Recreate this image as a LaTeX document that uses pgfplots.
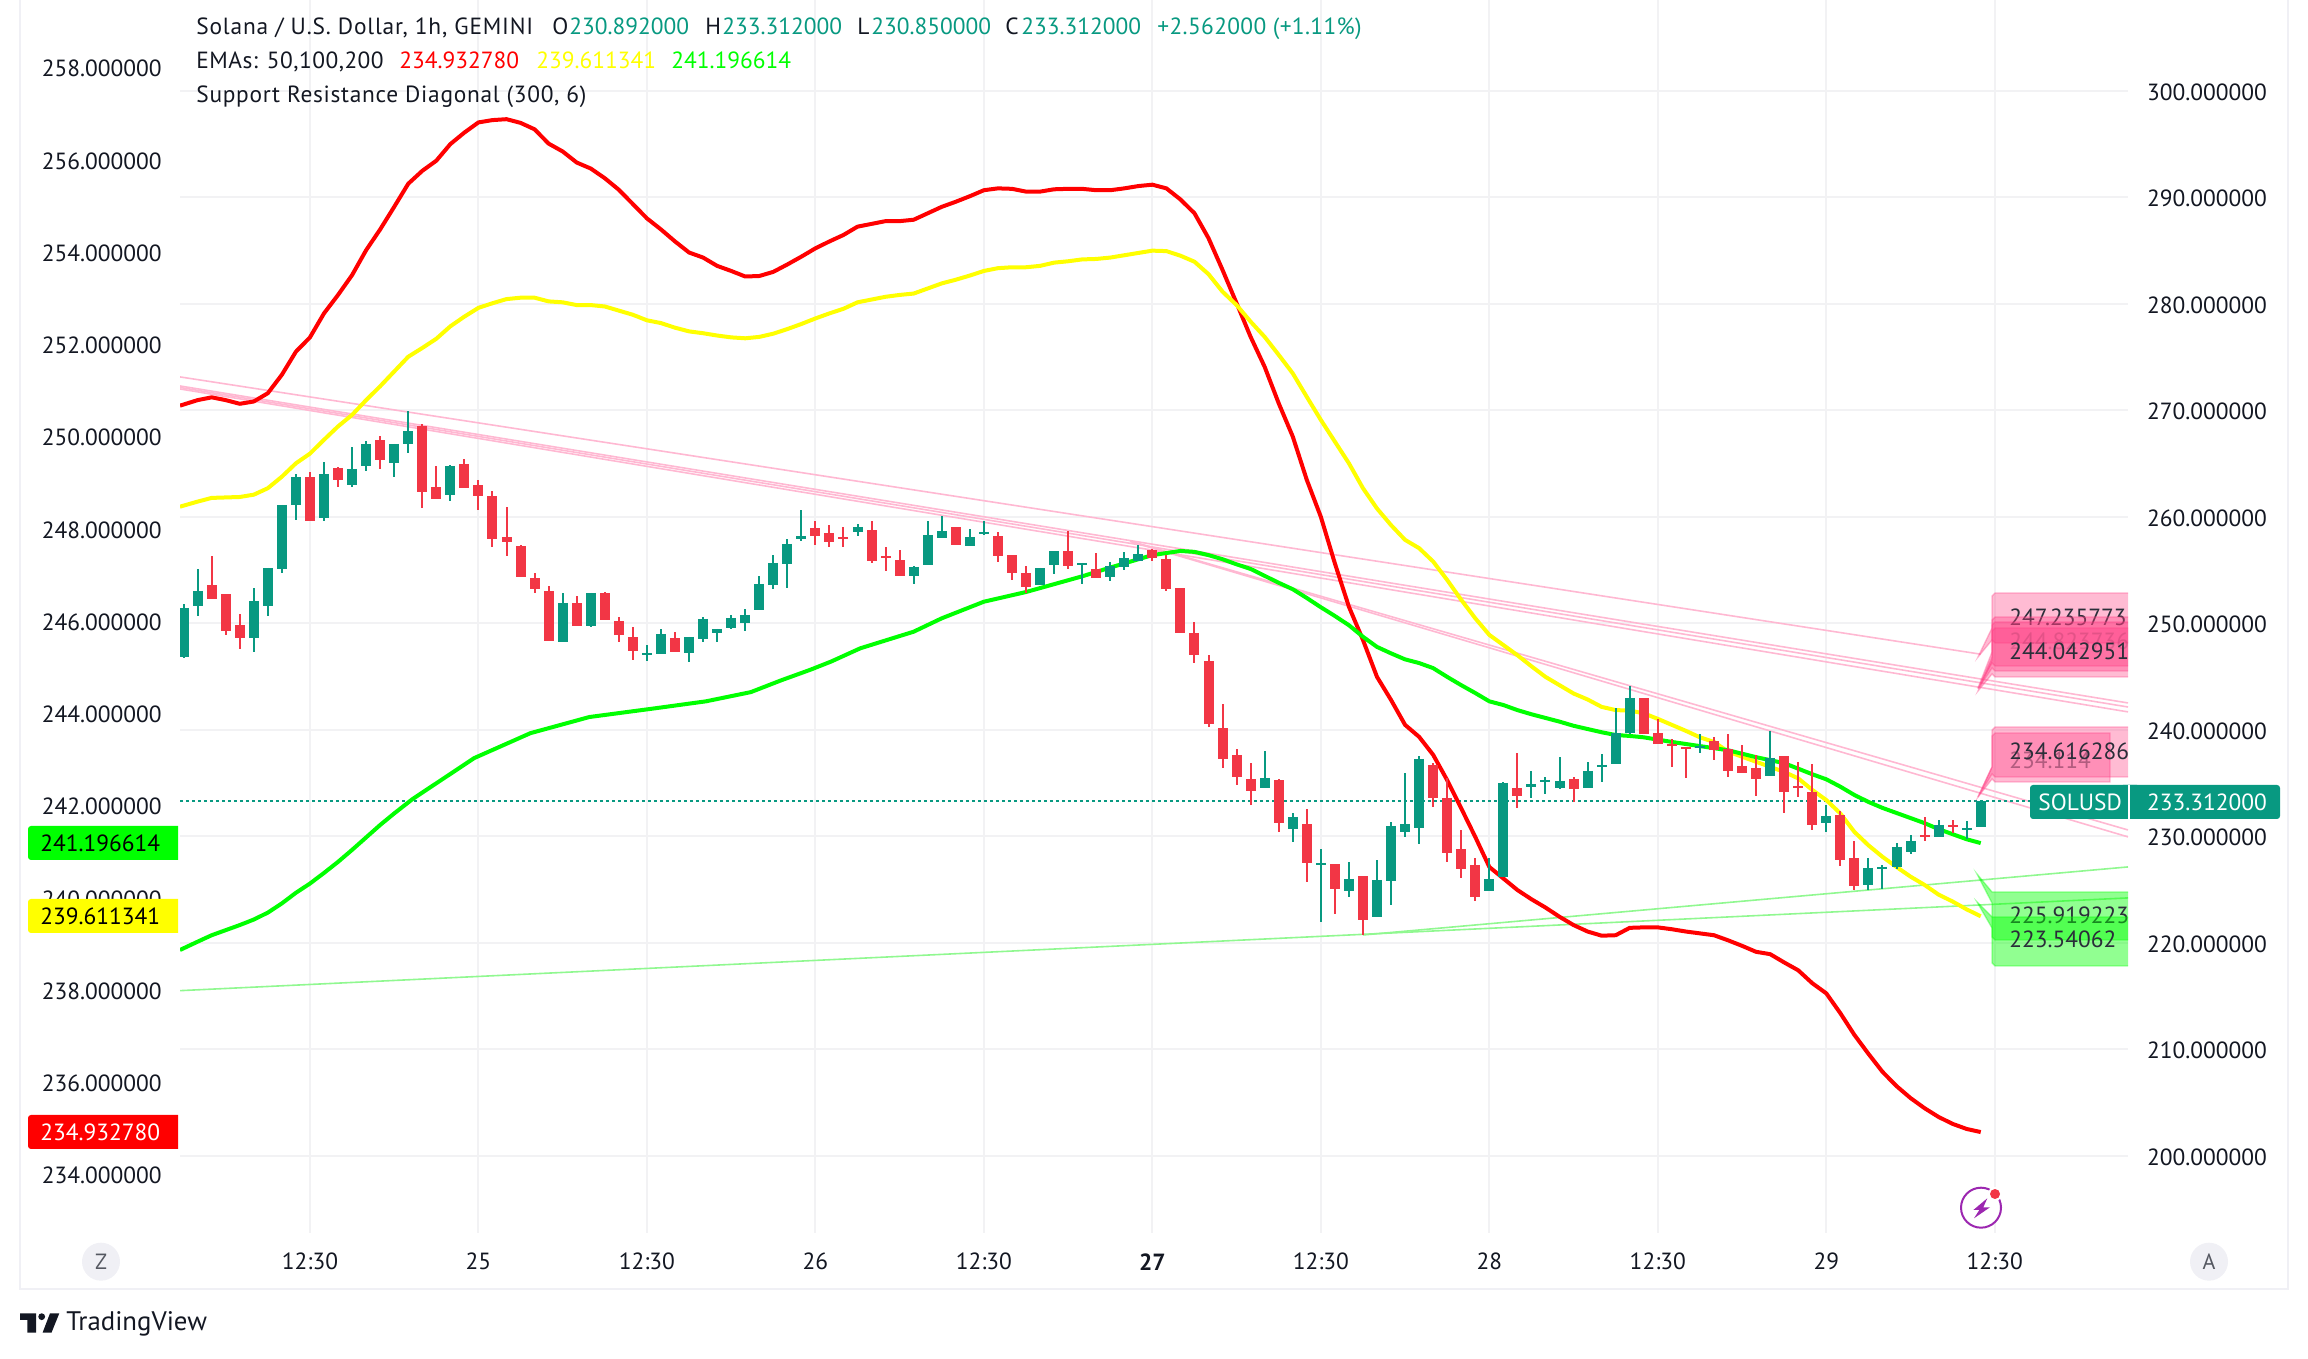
\documentclass[border=0pt]{standalone}
\usepackage{fontspec}
\setmainfont{PT Sans}
\usepackage{pgfplots}
\usepackage{pgfplotstable}
\pgfplotsset{compat=1.18}

\definecolor{tvgreen}{HTML}{089981}
\definecolor{tvred}{HTML}{F23645}
\definecolor{tvtext}{HTML}{131722}
\definecolor{tvyellow}{HTML}{FFFF00}
\definecolor{gridc}{HTML}{F2F2F4}
\definecolor{framec}{HTML}{F0F0F5}
\definecolor{srpink}{HTML}{FFB8D2}
\definecolor{srgreen}{HTML}{90F890}
\definecolor{lblpink}{HTML}{FF3C82}
\definecolor{lbltext}{HTML}{2A2E39}
\definecolor{badge}{HTML}{9C27B0}

% candles: index, open, high, low, close
\pgfplotstableread{
i o h l c
0 246.87 251.82 246.78 251.44
1 251.63 255.10 250.69 253.04
5 248.63 253.32 247.31 252.10
6 251.63 255.20 250.69 255.20
7 255.10 261.12 254.73 261.12
8 261.12 264.03 259.71 263.74
10 259.89 265.15 259.61 264.03
12 262.99 266.56 262.81 264.50
13 264.78 267.13 264.31 266.84
15 265.06 266.84 263.74 266.84
16 266.84 269.94 266.00 268.06
19 262.05 264.87 261.49 264.78
27 248.25 252.85 248.25 251.91
29 249.75 252.85 249.66 252.85
33 247.03 247.97 246.47 247.22
34 247.12 249.47 247.12 249.00
36 247.21 248.72 246.37 248.72
37 248.53 250.60 248.25 250.41
38 249.10 249.47 248.25 249.47
39 249.56 250.78 249.47 250.50
40 250.03 251.35 249.28 250.78
41 251.25 254.45 251.25 253.70
42 253.60 256.42 253.23 255.67
43 255.57 257.92 253.32 257.45
44 257.92 260.64 257.73 258.20
48 258.58 259.33 258.20 259.05
52 254.45 255.39 253.70 255.29
53 255.48 259.61 255.48 258.30
54 258.02 260.08 258.02 258.67
56 257.26 258.86 257.26 258.11
57 258.39 259.61 258.30 258.58
61 253.60 255.20 253.60 255.20
62 255.48 256.79 254.63 256.79
64 255.48 255.67 253.70 255.67
66 254.35 255.76 253.98 255.39
67 255.29 256.70 255.01 256.14
68 255.86 257.36 255.86 256.51
77 234.54 238.02 234.54 235.48
79 230.69 232.19 229.47 231.82
81 227.31 228.81 221.96 227.50
83 224.87 227.59 224.30 225.99
85 222.43 227.78 222.43 225.90
86 225.81 231.35 223.55 230.97
87 230.41 235.95 229.94 231.16
88 230.78 237.55 229.28 237.26
93 224.87 227.97 224.87 225.99
94 226.18 235.10 226.18 235.01
96 234.63 236.14 233.60 234.92
97 235.10 235.57 233.98 235.29
98 234.54 237.45 234.45 235.20
100 234.54 236.98 234.54 236.14
101 236.51 237.73 235.10 236.70
102 236.79 242.05 236.79 239.70
103 239.70 244.12 239.61 242.99
108 238.30 239.61 237.83 238.48
113 235.67 239.89 235.67 237.36
117 231.25 232.94 230.41 231.91
120 225.43 227.97 224.96 227.03
121 226.93 227.31 225.05 227.12
122 227.12 229.37 226.93 229.00
123 228.53 230.13 228.34 229.56
125 229.94 231.53 229.94 231.06
127 230.59 231.44 229.75 230.78
128 230.892 233.312 230.850 233.312
}\greencandles

\pgfplotstableread{
i o h l c
2 253.60 256.32 252.29 252.29
3 252.76 252.76 248.90 249.28
4 249.85 250.88 247.59 248.63
9 263.74 264.21 259.61 259.61
11 264.59 264.68 262.81 263.46
14 267.22 267.59 264.50 265.34
17 268.54 268.72 260.83 262.34
18 262.81 264.78 261.68 261.68
20 264.97 265.43 262.71 262.71
21 262.99 263.46 260.65 261.96
22 261.96 262.43 257.17 257.92
23 258.11 260.93 256.32 257.64
24 257.26 257.36 254.35 254.35
25 254.26 254.73 252.85 253.23
26 253.04 253.51 248.34 248.34
28 251.91 252.57 249.75 249.75
30 252.85 252.94 250.31 250.31
31 250.22 250.60 248.25 248.90
32 248.72 249.66 246.56 247.40
35 248.62 249.19 247.31 247.31
45 258.95 259.61 257.36 258.20
46 258.49 259.24 257.17 257.64
47 258.11 259.05 257.17 257.92
49 258.77 259.61 255.67 255.86
50 256.33 257.17 254.92 256.14
51 255.95 256.89 254.45 254.45
55 259.05 259.05 257.36 257.36
58 258.20 258.58 255.76 256.33
59 256.42 256.42 254.07 254.73
60 254.73 255.39 252.85 253.41
63 256.79 258.67 255.10 255.39
65 255.10 256.60 254.26 254.26
69 256.89 256.98 255.86 256.14
70 256.04 256.42 253.04 253.23
71 253.32 253.32 249.10 249.10
72 249.10 250.13 246.28 247.03
73 246.47 247.03 240.27 240.55
74 240.18 242.43 236.42 237.26
75 237.64 238.20 234.82 235.57
76 235.38 236.89 232.94 234.26
78 235.29 235.38 230.41 231.25
80 231.16 232.57 225.71 227.50
82 227.40 227.40 222.71 225.06
84 226.28 226.28 220.74 222.14
89 236.70 236.89 232.76 233.60
90 233.60 235.48 227.59 228.44
91 228.81 230.60 226.09 226.93
92 227.31 227.97 223.93 224.30
95 234.54 237.83 232.66 233.79
99 235.38 235.57 233.22 234.45
104 242.99 242.99 239.61 239.61
105 239.70 241.02 238.67 238.67
106 238.67 239.14 236.51 238.48
107 238.39 238.39 235.48 238.20
109 238.95 239.33 237.17 238.11
110 238.20 239.61 235.57 236.14
111 236.61 238.58 235.95 235.95
112 236.42 237.64 233.79 235.38
114 237.54 237.54 232.19 234.16
115 234.73 236.98 233.69 234.54
116 234.16 236.79 230.59 231.06
118 232.00 232.38 227.21 227.78
119 227.97 229.56 224.96 225.34
124 230.13 231.82 229.56 229.94
126 231.06 231.53 230.31 230.88
}\redcandles

% EMAs read on the left scale
\pgfplotstableread{
i v
-0.256 250.68
1 250.80
2 250.86
3 250.80
4 250.72
5 250.77
6 250.95
7 251.35
8 251.85
9 252.16
10 252.68
11 253.08
12 253.51
13 254.05
14 254.50
15 254.99
16 255.49
17 255.77
18 255.99
19 256.35
20 256.60
21 256.82
22 256.87
23 256.89
24 256.81
25 256.67
26 256.36
27 256.19
28 255.95
29 255.82
30 255.61
31 255.36
32 255.05
33 254.74
34 254.50
35 254.24
36 254.00
37 253.89
38 253.71
39 253.60
40 253.48
41 253.49
42 253.58
43 253.74
44 253.91
45 254.09
46 254.24
47 254.38
48 254.56
49 254.62
50 254.68
51 254.68
52 254.71
53 254.85
54 254.99
55 255.10
56 255.22
57 255.35
58 255.39
59 255.38
60 255.32
61 255.32
62 255.37
63 255.38
64 255.38
65 255.35
66 255.35
67 255.39
68 255.44
69 255.47
70 255.39
71 255.15
72 254.85
73 254.31
74 253.62
75 252.90
76 252.17
77 251.52
78 250.73
79 250.01
80 249.07
81 248.27
82 247.26
83 246.32
84 245.60
85 244.80
86 244.30
87 243.76
88 243.50
89 243.11
90 242.56
91 241.95
92 241.33
93 240.68
94 240.43
95 240.18
96 239.98
97 239.80
98 239.60
99 239.42
100 239.28
101 239.19
102 239.20
103 239.36
104 239.37
105 239.37
106 239.33
107 239.28
108 239.24
109 239.20
110 239.09
111 238.97
112 238.84
113 238.79
114 238.61
115 238.44
116 238.16
117 237.94
118 237.51
119 237.04
120 236.63
121 236.24
122 235.93
123 235.67
124 235.45
125 235.26
126 235.11
127 235.00
128 234.933
}\emared

\pgfplotstableread{
i v
-0.256 248.49
1 248.60
2 248.68
3 248.69
4 248.70
5 248.75
6 248.89
7 249.14
8 249.43
9 249.64
10 249.94
11 250.23
12 250.48
13 250.80
14 251.10
15 251.42
16 251.74
17 251.93
18 252.13
19 252.40
20 252.61
21 252.80
22 252.90
23 252.99
24 253.02
25 253.02
26 252.94
27 252.92
28 252.86
29 252.86
30 252.83
31 252.74
32 252.65
33 252.53
34 252.47
35 252.37
36 252.29
37 252.25
38 252.20
39 252.16
40 252.14
41 252.17
42 252.24
43 252.34
44 252.45
45 252.57
46 252.68
47 252.78
48 252.92
49 252.98
50 253.04
51 253.08
52 253.11
53 253.22
54 253.33
55 253.41
56 253.50
57 253.60
58 253.66
59 253.68
60 253.68
61 253.71
62 253.78
63 253.81
64 253.85
65 253.86
66 253.89
67 253.94
68 253.99
69 254.04
70 254.03
71 253.93
72 253.80
73 253.53
74 253.15
75 252.86
76 252.50
77 252.17
78 251.78
79 251.38
80 250.87
81 250.37
82 249.90
83 249.43
84 248.89
85 248.45
86 248.09
87 247.77
88 247.59
89 247.30
90 246.90
91 246.47
92 246.07
93 245.71
94 245.49
95 245.27
96 245.03
97 244.80
98 244.62
99 244.44
100 244.31
101 244.15
102 244.08
103 244.07
104 244.01
105 243.89
106 243.76
107 243.63
108 243.49
109 243.39
110 243.18
111 243.07
112 242.96
113 242.85
114 242.74
115 242.60
116 242.35
117 242.13
118 241.84
119 241.44
120 241.15
121 240.90
122 240.68
123 240.47
124 240.29
125 240.08
126 239.93
127 239.76
128 239.611
}\emayellow

\pgfplotstableread{
i v
-0.256 238.88
1 239.06
2 239.20
3 239.31
4 239.42
5 239.54
6 239.69
7 239.89
8 240.12
9 240.32
10 240.55
11 240.79
12 241.05
13 241.32
14 241.59
15 241.84
16.3 242.15
20.7 243.04
24.7 243.58
28.9 243.93
33.6 244.12
37.2 244.27
40.4 244.47
42.6 244.73
44.6 244.95
46.1 245.13
48.2 245.42
52 245.78
54 246.07
57 246.43
60 246.64
64 246.98
66 247.17
69 247.44
71 247.53
72 247.51
73 247.44
74 247.35
75 247.24
76 247.14
77 246.99
78 246.84
79 246.70
80 246.51
81 246.31
82 246.12
83 245.92
84 245.67
85 245.45
86 245.31
87 245.18
88 245.10
89 244.99
90 244.80
91 244.62
92 244.45
93 244.27
94 244.19
95 244.08
96 243.99
97 243.91
98 243.83
99 243.74
100 243.67
101 243.60
102 243.54
103 243.52
104 243.49
106 243.39
108 243.30
110 243.21
112 243.06
114 242.93
116 242.69
117 242.58
118 242.42
119 242.24
120 242.09
121 241.96
122 241.85
123 241.74
124 241.63
125 241.50
126 241.39
127 241.28
128 241.197
}\emagreen

\pgfplotsset{
  base/.style={
    scale only axis, width=974pt, height=616.5pt,
    at={(90pt,63pt)}, anchor=south west,
    xmin=-0.256, xmax=138.49,
    axis line style={draw=none},
    major tick length=0pt,
    tick label style={font=\fontsize{11.7}{14}\selectfont, text=tvtext, inner sep=0pt},
    scaled y ticks=false,
    yticklabel style={/pgf/number format/fixed, /pgf/number format/fixed zerofill, /pgf/number format/precision=6, /pgf/number format/assume math mode=true},
  },
  rightscale/.style={ymin=192.74, ymax=308.54},
  leftscale/.style={ymin=232.745, ymax=259.474},
  srp/.style={srpink, line width=0.8pt},
  srg/.style={srgreen, line width=0.8pt},
  ema/.style={#1, line width=2pt, line join=round},
  wick/.style={error bars/.cd, y dir=both, y explicit, error mark=none,
    error bar style={color=#1, line width=1pt}},
  body/.style={error bars/.cd, y dir=both, y explicit, error mark=none,
    error bar style={color=#1, line width=5pt}},
}

\newcommand{\txt}[4]{\node[anchor=base west, inner sep=0pt, text=#3, font=\fontsize{11.7}{14}\selectfont] at (#1,#2) {#4};}
\newcommand{\lbltxt}[3][1]{\node[anchor=west, inner sep=0pt, text=lbltext, text opacity=#1, font=\fontsize{11.7}{14}\selectfont] at (2009,#2) {#3};}
% label pointing down from the lower left corner: top, bottom, tip, base, right end
\newcommand{\lbldown}[5]{\filldraw[fill=lblpink, fill opacity=0.35, draw=lblpink, draw opacity=0.35, line width=0.7pt]
  (1978,#3) -- (1992,#4) -- (1992,#1+3) -- (1995,#1) -- (#5,#1) -- (#5,#2) -- (1995,#2) -- (1992,#2-3) -- cycle;}
% label pointing up from the upper left corner: top, bottom, tip, base
\newcommand{\lblup}[4]{\filldraw[fill=green, fill opacity=0.43, draw=green, draw opacity=0.35, line width=0.7pt]
  (1977,#3) -- (1992,#1) -- (2140,#1) -- (2140,#2) -- (1995,#2) -- (1992,#2-3) -- (1992,#4) -- cycle;}

\begin{document}
\begin{tikzpicture}
\begin{scope}[x=0.5pt, y=-0.5pt, yshift=679.5pt]
  \draw[framec, line width=1pt] (20,0) -- (20,1289) -- (2288,1289) -- (2288,0);
\end{scope}

% right scale: grid, support and resistance lines, price line
\begin{axis}[base, rightscale,
    ytick={200,210,...,300}, yticklabel pos=right,
    yticklabel style={anchor=west, xshift=9.3pt, yshift=-0.6pt},
    xtick={9,21,33,45,57,69,81,93,105,117,129},
    xticklabels={12:30,25,12:30,26,12:30,\textbf{27},12:30,28,12:30,29,12:30},
    xticklabel style={anchor=center, yshift=-14.4pt},
    grid=major, major grid style={draw=gridc, line width=1pt},
  ]
  \addplot[srp] coordinates {(-0.256,273.14)(128,247.10)};
  \addplot[srp] coordinates {(-0.256,272.29)(138.49,242.52)};
  \addplot[srp] coordinates {(-0.256,272.15)(138.49,242.14)};
  \addplot[srp] coordinates {(-0.256,272.01)(138.49,241.68)};
  \addplot[srp] coordinates {(67.41,257.73)(138.49,230.59)};
  \addplot[srp] coordinates {(67.41,257.69)(138.49,229.94)};
  \addplot[srg] coordinates {(-0.256,215.50)(138.49,224.21)};
  \addplot[srg] coordinates {(84,220.73)(138.49,227.12)};
  \addplot[tvgreen, line width=1pt, dash pattern=on 1.5pt off 1.5pt] coordinates {(-0.256,233.312)(138.49,233.312)};
\end{axis}

% left scale: EMAs
\begin{axis}[base, leftscale,
    ytick={234,236,...,258}, xtick=\empty,
    yticklabel style={anchor=east, xshift=-9pt, yshift=-0.3pt},
  ]
  \addplot[ema=red] table[x=i,y=v] {\emared};
  \addplot[ema=tvyellow] table[x=i,y=v] {\emayellow};
  \addplot[ema=green] table[x=i,y=v] {\emagreen};
\end{axis}

% candles on the right scale
\begin{axis}[base, rightscale, hide axis]
  \addplot[draw=none, mark=none, wick=tvgreen] table[x=i, y=c, y error plus expr=\thisrow{h}-\thisrow{c}, y error minus expr=\thisrow{c}-\thisrow{l}] {\greencandles};
  \addplot[draw=none, mark=none, body=tvgreen] table[x=i, y=c, y error plus expr=0, y error minus expr=\thisrow{c}-\thisrow{o}] {\greencandles};
  \addplot[draw=none, mark=none, wick=tvred] table[x=i, y=c, y error plus expr=\thisrow{h}-\thisrow{c}, y error minus expr=\thisrow{c}-\thisrow{l}] {\redcandles};
  \addplot[draw=none, mark=none, body=tvred] table[x=i, y=c, y error plus expr=\thisrow{o}-\thisrow{c}, y error minus expr=0] {\redcandles};
\end{axis}

\begin{scope}[x=0.5pt, y=-0.5pt, yshift=679.5pt]
  % header
  \txt{196}{34.5}{tvtext}{\addfontfeature{LetterSpace=3.5}Solana / U.S. Dollar, 1h, GEMINI}
  \txt{552}{34.5}{tvtext}{O}
  \txt{569}{34.5}{tvgreen}{230.892000}
  \txt{705}{34.5}{tvtext}{H}
  \txt{722}{34.5}{tvgreen}{233.312000}
  \txt{857}{34.5}{tvtext}{L}
  \txt{871}{34.5}{tvgreen}{230.850000}
  \txt{1005}{34.5}{tvtext}{C}
  \txt{1021}{34.5}{tvgreen}{233.312000}
  \txt{1157}{34.5}{tvgreen}{\addfontfeature{LetterSpace=1.5}+2.562000 (+1.11\%)}
  \txt{196}{68.5}{tvtext}{\addfontfeature{LetterSpace=2}EMAs: 50,100,200}
  \txt{399}{68.5}{red}{234.932780}
  \txt{536}{68.5}{tvyellow}{239.611341}
  \txt{671}{68.5}{green}{241.196614}
  \txt{196}{103}{tvtext}{\addfontfeature{LetterSpace=3}Support Resistance Diagonal (300, 6)}

  % price tags on the left scale, flat on the side of the plot
  \begin{scope}
    \clip (20,800) rectangle (178,1160);
    \fill[green, rounded corners=1.5pt] (28,826) rectangle (190,860);
    \fill[tvyellow, rounded corners=1.5pt] (28,899) rectangle (190,933);
    \fill[red, rounded corners=1.5pt] (28,1115) rectangle (190,1149);
  \end{scope}
  \txt{40}{851.5}{black}{241.196614}
  \txt{40}{924.5}{black}{239.611341}
  \txt{40}{1140.5}{white}{234.932780}

  % support and resistance labels, cut at the price scale
  \begin{scope}
    \clip (1960,560) rectangle (2128,990);
    \lbldown{593}{643}{657}{628}{2140}
    \lbltxt{617.7}{247.235773}
    \lbldown{617}{666}{688}{652}{2140}
    \lbltxt[0.3]{641.7}{244.823736}
    \lbldown{622}{671}{689}{657}{2140}
    \lbldown{628}{677}{691}{660}{2140}
    \lbltxt{651.7}{244.042951}
    \lbldown{733}{782}{797}{767}{2110}
    \lbltxt[0.55]{760}{234.114}
    \lbldown{727}{777}{797}{767}{2140}
    \lbltxt{751.7}{234.616286}
    \lblup{892}{940}{874}{903}
    \lbltxt{915}{225.919223}
    \lblup{917}{966}{902}{928}
    \lbltxt{939}{223.54062}
  \end{scope}

  % last price tag
  \fill[tvgreen, rounded corners=1.5pt] (2030,785) rectangle (2140,819);
  \fill[tvgreen, rounded corners=1.5pt] (2120,785) rectangle (2280,819);
  \fill[white] (2128,785) rectangle (2130,819);
  \txt{2038}{810.5}{white}{SOLUSD}
  \txt{2146.7}{810.5}{white}{233.312000}

  % buttons
  \fill[framec] (101,1261.7) circle[radius=19];
  \fill[framec] (2209,1261.7) circle[radius=19];
  \node[text=lbltext!80, inner sep=0pt, font=\fontsize{11}{13}\selectfont] at (101,1261.7) {Z};
  \node[text=lbltext!80, inner sep=0pt, font=\fontsize{11}{13}\selectfont] at (2209,1261.7) {A};

  % lightning badge
  \draw[fill=white, draw=badge, line width=1pt] (1981,1207.7) circle[radius=20];
  \fill[badge] (1987.3,1198.3) -- (1973.3,1210) -- (1979.3,1210) -- (1974,1218.3) -- (1990,1207.3) -- (1983.3,1207.3) -- cycle;
  \fill[white] (1995,1194) circle[radius=7];
  \fill[tvred] (1995,1194) circle[radius=5];

  % logo
  \fill[tvtext] (20,1313.3) -- (36,1313.3) -- (36,1332.7) -- (27.3,1332.7) -- (27.3,1320) -- (20,1320) -- cycle;
  \fill[tvtext] (41.7,1316.7) circle[radius=3.4];
  \fill[tvtext] (50,1313.3) -- (59.3,1313.3) -- (51.5,1332.7) -- (42.6,1332.7) -- cycle;
  \node[anchor=base west, inner sep=0pt, text=tvtext, font=\fontsize{13.4}{15}\selectfont] at (66,1331) {TradingView};
  \pgfresetboundingbox
  \useasboundingbox (0,0) rectangle (2308,1359);
\end{scope}
\end{tikzpicture}
\end{document}
